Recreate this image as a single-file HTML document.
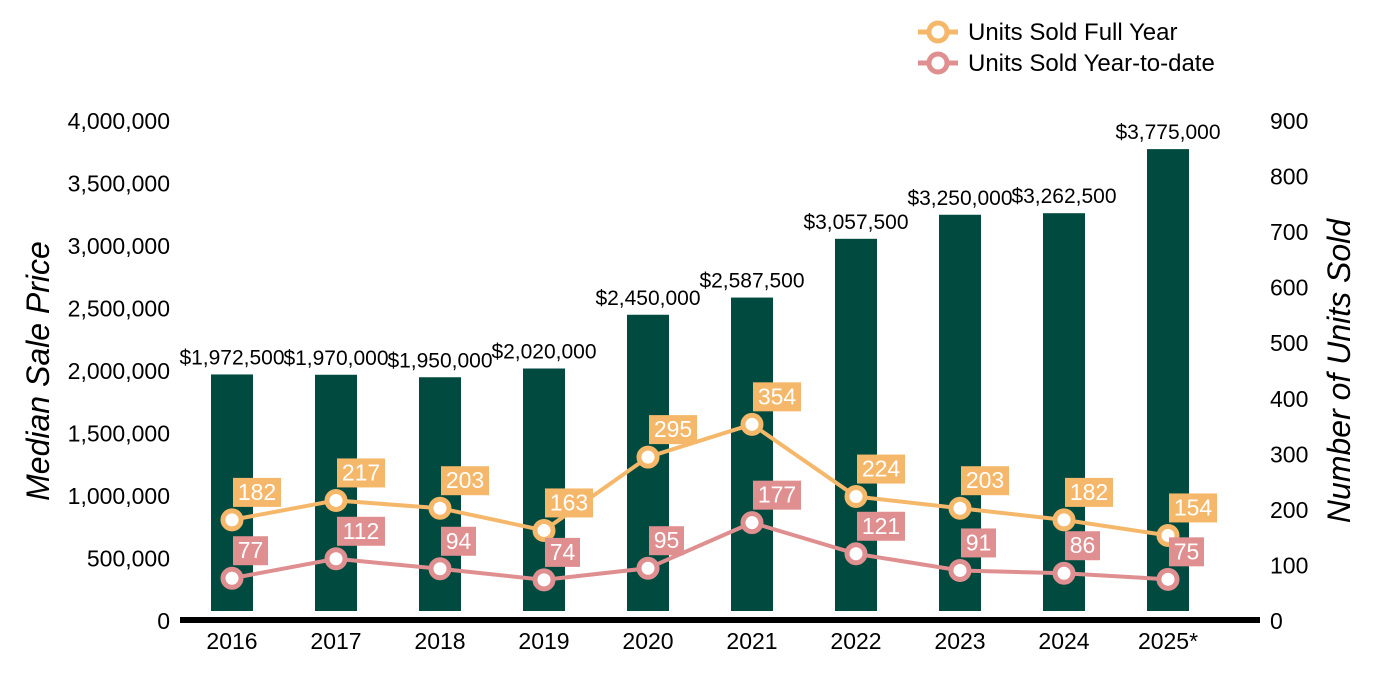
<!DOCTYPE html>
<html><head><meta charset="utf-8"><style>
html,body{margin:0;padding:0;background:#fff;}
svg{display:block;font-family:"Liberation Sans",Arial,sans-serif;}
</style></head><body>
<svg id="chart" width="1400" height="700"></svg>
<script>
const years=["2016","2017","2018","2019","2020","2021","2022","2023","2024","2025*"];
const prices=[1972500,1970000,1950000,2020000,2450000,2587500,3057500,3250000,3262500,3775000];
const fullYear=[182,217,203,163,295,354,224,203,182,154];
const ytd=[77,112,94,74,95,177,121,91,86,75];
const leftTicks=[0,500000,1000000,1500000,2000000,2500000,3000000,3500000,4000000];
const rightTicks=[0,100,200,300,400,500,600,700,800,900];

const NS="http://www.w3.org/2000/svg";
const svg=document.getElementById('chart');
function mk(tag,attrs,text){const e=document.createElementNS(NS,tag);for(const k in attrs)e.setAttribute(k,attrs[k]);if(text!==undefined)e.textContent=text;return e;}
const y0=621,yTop=121;
const yL=v=>y0-(v/4000000)*(y0-yTop);
const yR=v=>y0-(v/900)*(y0-yTop);
const xC=i=>232+i*104;
const fmt=n=>n.toLocaleString('en-US');

leftTicks.forEach(t=>{const e=mk('text',{x:170,y:yL(t)+8,'text-anchor':'end','font-size':23,fill:'#000'},fmt(t));


svg.appendChild(e);});
rightTicks.forEach(t=>{const e=mk('text',{x:1270,y:yR(t)+8,'font-size':23,fill:'#000'},String(t));


svg.appendChild(e);});

let t=mk('text',{x:0,y:0,transform:'translate(49,371) rotate(-90)','text-anchor':'middle','font-size':32,'font-style':'italic',fill:'#000'},'Median Sale Price');
svg.appendChild(t);
t=mk('text',{x:0,y:0,transform:'translate(1350,371) rotate(-90)','text-anchor':'middle','font-size':32,'font-style':'italic',fill:'#000'},'Number of Units Sold');
svg.appendChild(t);

prices.forEach((p,i)=>{
 const top=yL(p);
 const r=mk('rect',{x:xC(i)-21,y:top,width:42,height:611-top,fill:'#004a3f'});
 
 
 svg.appendChild(r);
 const l=mk('text',{x:xC(i),y:top-10,'text-anchor':'middle','font-size':21,fill:'#000'},'$'+fmt(p));
 
 
 svg.appendChild(l);
});
let ax=mk('rect',{x:180,y:617,width:1080,height:6,fill:'#000'});
svg.appendChild(ax);
years.forEach((yv,i)=>{const e=mk('text',{x:xC(i),y:649,'text-anchor':'middle','font-size':23,fill:'#000'},yv);


svg.appendChild(e);});

function series(vals,color,name){
 const pts=vals.map((v,i)=>xC(i)+','+yR(v)).join(' ');
 const pl=mk('polyline',{points:pts,fill:'none',stroke:color,'stroke-width':4});
 
 
 svg.appendChild(pl);
 vals.forEach((v,i)=>{
  const cx=xC(i),cy=yR(v);
  const c=mk('circle',{cx:cx,cy:cy,r:9,fill:'#fff',stroke:color,'stroke-width':5});
  
  
  svg.appendChild(c);
  const w=String(v).length*13+9;
  const b=mk('rect',{x:cx+1,y:cy-42,width:w,height:29,fill:color});
  
  
  svg.appendChild(b);
  const tx=mk('text',{x:cx+1+w/2,y:cy-20,'text-anchor':'middle','font-size':23,fill:'#fff'},String(v));
  
  
  svg.appendChild(tx);
 });
}
series(fullYear,'#f5b86a','full-year');
series(ytd,'#df8f90','ytd');

[['Units Sold Full Year','#f5b86a',32],['Units Sold Year-to-date','#df8f90',63]].forEach(([lab,col,y])=>{
 const g=mk('g',{});
 
 
 g.appendChild(mk('line',{x1:918,y1:y,x2:958,y2:y,stroke:col,'stroke-width':5}));
 g.appendChild(mk('circle',{cx:938,cy:y,r:9,fill:'#fff',stroke:col,'stroke-width':5}));
 g.appendChild(mk('text',{x:968,y:y+8,'font-size':24,fill:'#000'},lab));
 svg.appendChild(g);
});
</script>
</body></html>
